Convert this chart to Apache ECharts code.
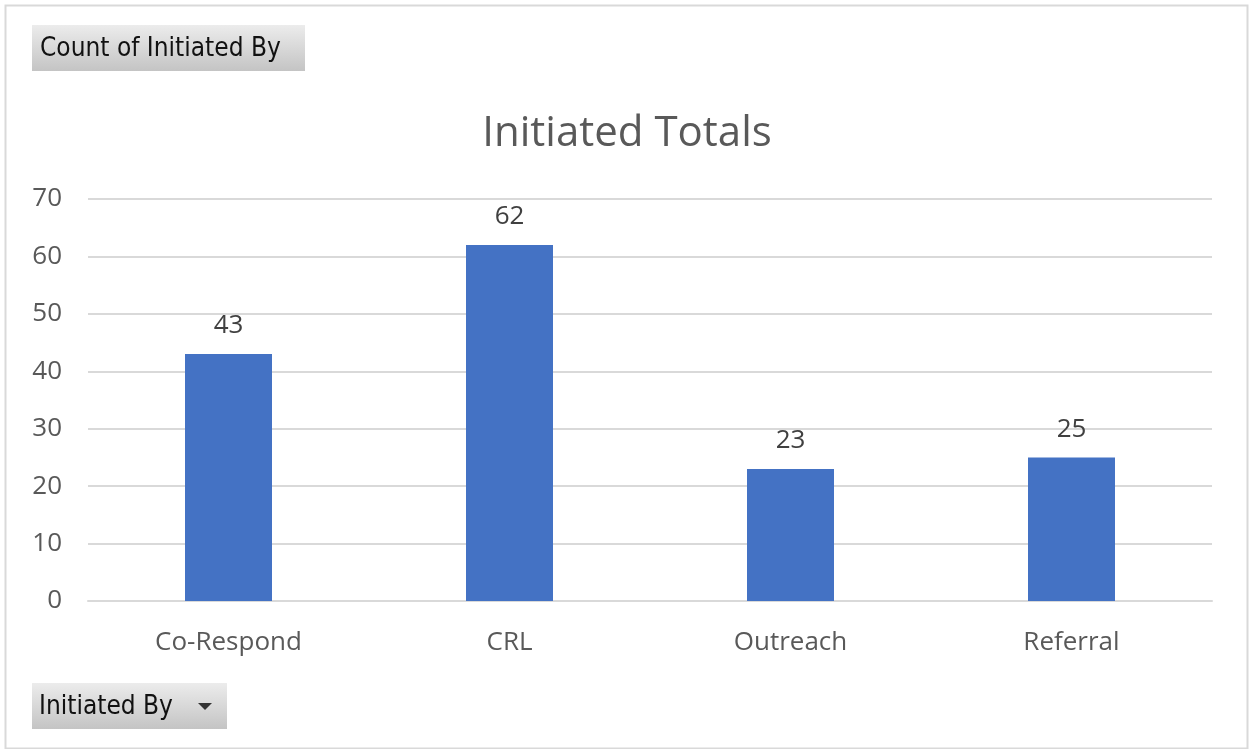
<!DOCTYPE html>
<html>
<head>
<meta charset="utf-8">
<script src="https://cdn.jsdelivr.net/npm/echarts@6/dist/echarts.min.js"></script>
<style>
    html, body { margin: 0; padding: 0; background: #fff; }
    #chart { width: 1249px; height: 749px; }
</style>
</head>
<body>
<div id="chart"></div>
<script>
const categories = ['Co-Respond', 'CRL', 'Outreach', 'Referral'];
const counts = [43, 62, 23, 25];
const yTicks = [0, 10, 20, 30, 40, 50, 60, 70];

const chart = echarts.init(document.getElementById('chart'));

const btnFill = new echarts.graphic.LinearGradient(0, 0, 0, 1, [
    { offset: 0, color: '#ececec' },
    { offset: 1, color: '#c4c4c4' }
]);

const option = {
    backgroundColor: '#ffffff',
    title: {
        text: 'Initiated Totals',
        left: 622,
        top: 108,
        textAlign: 'center',
        textStyle: {
            fontFamily: 'Open Sans',
            fontSize: 42,
            fontWeight: 'normal',
            color: '#595959'
        }
    },
    grid: {
        left: 88,
        right: 37,
        top: 199,
        bottom: 148
    },
    xAxis: {
        type: 'category',
        data: categories,
        axisLine: { lineStyle: { color: '#d9d9d9', width: 2 } },
        axisTick: { show: false },
        axisLabel: {
            fontFamily: 'Open Sans',
            fontSize: 26,
            color: '#595959',
            margin: 29
        }
    },
    yAxis: {
        type: 'value',
        min: yTicks[0],
        max: yTicks[yTicks.length - 1],
        interval: 10,
        axisLine: { show: false },
        axisTick: { show: false },
        splitLine: { lineStyle: { color: '#d9d9d9', width: 2 } },
        axisLabel: {
            fontFamily: 'Open Sans',
            fontSize: 26,
            color: '#595959',
            margin: 26
        }
    },
    series: [
        {
            type: 'bar',
            data: counts,
            barWidth: 87,
            itemStyle: { color: '#4472c4' },
            label: {
                show: true,
                position: 'top',
                distance: 15,
                fontFamily: 'Open Sans',
                fontSize: 26,
                color: '#404040'
            }
        }
    ],
    graphic: [
        {
            type: 'rect',
            left: 3,
            top: 3,
            shape: { width: 1242, height: 743 },
            style: { fill: 'none', stroke: '#d9d9d9', lineWidth: 2 },
            silent: true
        },
        {
            type: 'group',
            left: 32,
            top: 25,
            children: [
                {
                    type: 'rect',
                    shape: { width: 273, height: 46 },
                    style: { fill: btnFill }
                },
                {
                    type: 'text',
                    left: 8,
                    top: 11,
                    style: {
                        text: 'Count of Initiated By',
                        font: '26px "DejaVu Sans Condensed", "Liberation Sans Narrow", sans-serif',
                        fill: '#111'
                    }
                }
            ]
        },
        {
            type: 'group',
            left: 32,
            top: 683,
            children: [
                {
                    type: 'rect',
                    shape: { width: 195, height: 46 },
                    style: { fill: btnFill }
                },
                {
                    type: 'text',
                    left: 7,
                    top: 11,
                    style: {
                        text: 'Initiated By',
                        font: '26px "DejaVu Sans Condensed", "Liberation Sans Narrow", sans-serif',
                        fill: '#111'
                    }
                },
                {
                    type: 'polygon',
                    shape: { points: [[166, 20], [180, 20], [173, 27]] },
                    style: { fill: '#333' }
                }
            ]
        }
    ]
};

option && chart.setOption(option);
</script>
</body>
</html>
